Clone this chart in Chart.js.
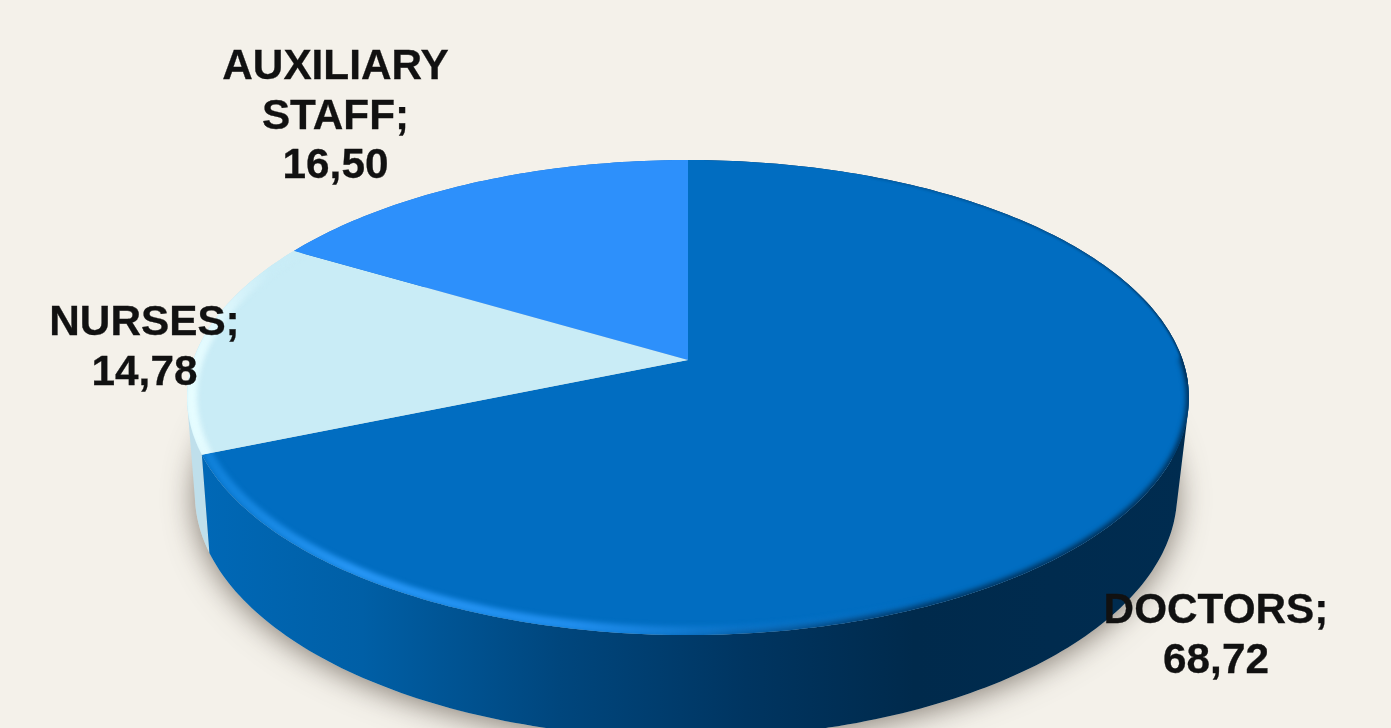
<!DOCTYPE html>
<html>
<head>
<meta charset="utf-8">
<title>Staff by category</title>
<script src="https://cdn.jsdelivr.net/npm/chart.js@4"></script>
<style>
  html, body { margin: 0; padding: 0; background: #f4f1ea; overflow: hidden; }
  canvas { display: block; }
</style>
</head>
<body>
<canvas id="staff-chart" width="1391" height="728"></canvas>
<script>
const categories = ["DOCTORS", "NURSES", "AUXILIARY STAFF"];
const shares = [68.72, 14.78, 16.5];

const faceColors = ["#016dc1", "#c9ecf6", "#2d90fb"];
const labelCenters = [[1216, 623], [144.5, 335], [335.5, 79]];
const LABEL_LINE_HEIGHT = 49.5;

// Disc seen in perspective: the near edge is larger than the far edge.
// Sizes are multiples of the radius Chart.js gives the arcs.
const TILT = 0.158;
const TOP_DISC = { dx: 0, dy: 0, sx: 1.374, sy: 0.6433 };
const BOTTOM_DISC = { dx: -2, dy: 95.5, sx: 1.347, sy: 0.661 };

function project(arc, disc, angle, inset = 1) {
  const u = Math.cos(angle) * inset;
  const v = Math.sin(angle) * inset;
  const w = 1 - TILT * v;
  return {
    x: arc.x + disc.dx + (arc.outerRadius * disc.sx * u) / w,
    y: arc.y + disc.dy + (arc.outerRadius * disc.sy * v) / w,
  };
}

function stepCount(from, to) {
  return Math.max(2, Math.ceil((Math.abs(to - from) * 180) / Math.PI));
}

function traceArc(ctx, arc, disc, from, to, inset = 1, joined = true) {
  const steps = stepCount(from, to);
  for (let i = 0; i <= steps; i++) {
    const p = project(arc, disc, from + ((to - from) * i) / steps, inset);
    if (i === 0 && !joined) ctx.moveTo(p.x, p.y);
    else ctx.lineTo(p.x, p.y);
  }
}

function faceOutline(ctx, arc, disc) {
  const apex = project(arc, disc, 0, 0);
  ctx.beginPath();
  ctx.moveTo(apex.x, apex.y);
  traceArc(ctx, arc, disc, arc.startAngle, arc.endAngle);
  ctx.closePath();
}

// The two rims cross near the silhouette, so the wall is swept as strips in
// one path, all wound the same way so overlapping strips do not cancel out.
function fillWall(ctx, arc, style) {
  const steps = stepCount(arc.startAngle, arc.endAngle);
  const at = (i) => arc.startAngle + ((arc.endAngle - arc.startAngle) * i) / steps;
  ctx.beginPath();
  for (let i = 0; i < steps; i++) {
    const quad = [
      project(arc, TOP_DISC, at(i)),
      project(arc, TOP_DISC, at(i + 1)),
      project(arc, BOTTOM_DISC, at(i + 1)),
      project(arc, BOTTOM_DISC, at(i)),
    ];
    let area = 0;
    quad.forEach((p, n) => {
      const q = quad[(n + 1) % 4];
      area += p.x * q.y - q.x * p.y;
    });
    if (area < 0) quad.reverse();
    quad.forEach((p, n) => (n === 0 ? ctx.moveTo(p.x, p.y) : ctx.lineTo(p.x, p.y)));
    ctx.closePath();
  }
  ctx.fillStyle = style;
  ctx.fill("nonzero");
}

function horizontalGradient(ctx, x0, x1, stops) {
  const g = ctx.createLinearGradient(x0, 0, x1, 0);
  stops.forEach(([at, color]) => g.addColorStop(at, color));
  return g;
}

function strokeRim(ctx, arc, from, to, inset, width, blur, style) {
  ctx.save();
  faceOutline(ctx, arc, TOP_DISC);
  ctx.clip();
  ctx.filter = `blur(${blur}px)`;
  ctx.strokeStyle = style;
  ctx.lineWidth = width;
  ctx.lineCap = "round";
  ctx.beginPath();
  traceArc(ctx, arc, TOP_DISC, from, to, inset, false);
  ctx.stroke();
  ctx.restore();
}

function drawDisc(chart) {
  const ctx = chart.ctx;
  const arcs = chart.getDatasetMeta(0).data;
  const [doctors, nurses, auxiliary] = arcs;

  // soft shadow on the floor
  ctx.save();
  ctx.shadowColor = "rgba(85, 75, 65, 0.7)";
  ctx.shadowBlur = 30;
  ctx.shadowOffsetY = 4;
  ctx.fillStyle = "#d8d3cb";
  ctx.beginPath();
  traceArc(ctx, doctors, BOTTOM_DISC, 0, Math.PI * 2, 1, false);
  ctx.closePath();
  ctx.fill();
  ctx.restore();

  // walls, back to front
  const doctorsWall = horizontalGradient(ctx, 205, 1190, [
    [0, "#0068b6"],
    [0.16, "#005fa6"],
    [0.36, "#00467d"],
    [0.55, "#003561"],
    [0.72, "#002a4c"],
    [1, "#002c50"],
  ]);
  fillWall(ctx, auxiliary, "#1c6fc4");
  fillWall(ctx, nurses, "#bfdfeb");
  fillWall(ctx, doctors, doctorsWall);

  // top faces
  arcs.forEach((arc) => {
    ctx.fillStyle = arc.options.backgroundColor;
    faceOutline(ctx, arc, TOP_DISC);
    ctx.fill();
  });

  // bevel along the rim: thin dark line at the back, wider falloff in front
  const toRad = Math.PI / 180;
  strokeRim(ctx, doctors, -65 * toRad, 5 * toRad, 1.002, 4, 1.1,
    horizontalGradient(ctx, 900, 1190, [
      [0, "rgba(0, 50, 92, 0.25)"],
      [0.7, "rgba(0, 50, 92, 0.55)"],
      [1, "rgba(0, 40, 75, 1)"],
    ]));
  strokeRim(ctx, doctors, 95 * toRad, 0, 1.004, 10, 2.8,
    horizontalGradient(ctx, 620, 1100, [
      [0, "rgba(0, 50, 92, 0)"],
      [0.5, "rgba(0, 50, 92, 0.8)"],
      [1, "rgba(0, 50, 92, 1)"],
    ]));
  strokeRim(ctx, doctors, doctors.endAngle, 62 * toRad, 0.989, 10, 2.6,
    horizontalGradient(ctx, 205, 940, [
      [0, "rgba(20, 135, 225, 0.75)"],
      [0.2, "rgba(38, 150, 245, 1)"],
      [0.5, "rgba(32, 142, 238, 1)"],
      [0.72, "rgba(30, 135, 225, 0.35)"],
      [1, "rgba(30, 135, 225, 0)"],
    ]));
  strokeRim(ctx, nurses, nurses.startAngle, nurses.endAngle, 0.992, 12, 2.6,
    horizontalGradient(ctx, 190, 270, [
      [0, "#e6fdff"],
      [0.35, "#e0f8fd"],
      [1, "#c9ecf6"],
    ]));
}

function drawLabels(chart) {
  const ctx = chart.ctx;
  ctx.save();
  ctx.font = 'bold 42.3px "Liberation Sans", Arial, sans-serif';
  ctx.fillStyle = "#111111";
  ctx.strokeStyle = "#111111";
  ctx.lineWidth = 0.3;
  ctx.textAlign = "center";
  ctx.textBaseline = "alphabetic";
  categories.forEach((name, i) => {
    const words = name.split(" ");
    words[words.length - 1] += ";";
    const lines = [...words, shares[i].toFixed(2).replace(".", ",")];
    lines.forEach((line, n) => {
      const y = labelCenters[i][1] + n * LABEL_LINE_HEIGHT;
      ctx.fillText(line, labelCenters[i][0], y);
      ctx.strokeText(line, labelCenters[i][0], y);
    });
  });
  ctx.restore();
}

const discPlugin = {
  id: "perspectiveDisc",
  beforeDatasetsDraw(chart) {
    drawDisc(chart);
    return false;
  },
  afterDraw: drawLabels,
};

new Chart(document.getElementById("staff-chart"), {
  type: "pie",
  data: {
    labels: categories,
    datasets: [{ data: shares, backgroundColor: faceColors, borderWidth: 0 }],
  },
  options: {
    responsive: false,
    animation: false,
    layout: { padding: { right: 15, bottom: 8 } },
    plugins: { legend: { display: false }, tooltip: { enabled: false } },
  },
  plugins: [discPlugin],
});
</script>
</body>
</html>
